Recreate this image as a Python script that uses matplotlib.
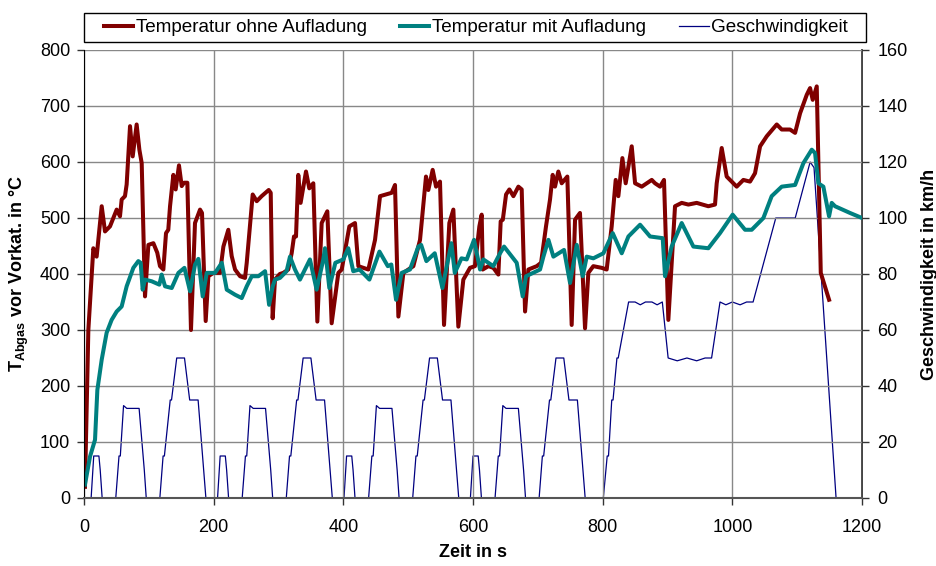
import matplotlib
matplotlib.use("Agg")
import matplotlib.pyplot as plt
from matplotlib.patches import Rectangle

plt.rcParams['font.family'] = ['Liberation Sans', 'DejaVu Sans']
plt.rcParams['mathtext.fontset'] = 'custom'
plt.rcParams['mathtext.rm'] = 'Liberation Sans'
plt.rcParams['mathtext.bf'] = 'Liberation Sans:bold'

# ---- data ----
t_ohne = [1.5, 6.7, 14.4, 19.5, 27.3, 32.4, 40.1, 50.4, 55.5, 58.1, 63.2, 65.8, 71, 75.1, 81.2, 85.4, 89,
          94.1, 99.3, 107, 113, 117.2, 122.4, 126.5, 130, 132.7, 137.8, 141.4, 146.5, 150.7, 154.3, 159.4,
          165, 171.2, 179, 182, 187.7, 191.8, 199.5, 209.8, 215, 222.6, 227.8, 233, 240.7, 248.4, 251, 255,
          260.2, 266.4, 274, 284.9, 288, 291, 294.6, 302, 307.4, 315, 320.3, 323.9, 327, 330.5, 334.1, 342.4,
          347.5, 353.7, 359.9, 366.6, 375.3, 382, 392.3, 397.5, 409.3, 418, 423.2, 438.6, 448.9, 456.6,
          474.6, 479.7, 484.9, 492.6, 508, 518.3, 527.5, 531.1, 537.8, 543, 549.1, 555.3, 563.5, 569.7,
          577.4, 585.1, 595.4, 603, 609.8, 613.4, 615, 623.7, 631.4, 639.1, 642.7, 646, 651, 656.1, 662.3,
          670, 675.1, 680.3, 685.4, 698.3, 705, 712.6, 718.8, 722.9, 726.5, 731.6, 736.8, 745.5, 752.2,
          757.4, 765, 772.8, 777.9, 785.6, 798.5, 806.2, 813.9, 820.1, 824.2, 830.4, 835.5, 844.8, 850,
          860.3, 875.7, 880.8, 888.5, 894.6, 901.3, 911.6, 921.9, 932.2, 945, 963, 973.3, 975.9, 983.6,
          991.3, 1006.7, 1017, 1027.3, 1035, 1042.8, 1053.1, 1068.5, 1076.2, 1089, 1096.8, 1104.5, 1114.8,
          1119.9, 1124, 1130.2, 1136.4, 1149.2]
T_ohne = [20, 300, 446, 431, 521, 476, 485, 515, 503, 533, 539, 560, 664, 610, 667, 622, 598,
          360, 452, 455, 438, 414, 408, 473, 479, 521, 577, 551, 594, 557, 563, 563,
          300, 491, 515, 509, 316, 396, 402, 402, 449, 479, 432, 408, 396, 393, 420, 473,
          542, 530, 539, 550, 545, 321, 390, 400, 402, 408, 437, 467, 467, 577, 527, 583,
          553, 562, 315, 491, 512, 312, 402, 408, 485, 491, 414, 408, 461, 539,
          545, 559, 324, 402, 414, 461, 574, 550, 586, 556, 565, 309, 491, 515,
          306, 390, 411, 414, 485, 506, 408, 414, 411, 399, 494, 497, 542, 551, 539,
          556, 551, 333, 408, 414, 420, 485, 533, 577, 556, 583, 562, 574, 309,
          497, 509, 303, 402, 414, 411, 408, 485, 568, 539, 607, 562, 628, 562,
          556, 568, 562, 556, 568, 318, 521, 527, 524, 527, 521, 524, 562, 625,
          574, 556, 568, 565, 580, 628, 646, 667, 658, 658, 652, 687, 720,
          732, 711, 735, 402, 354]

t_mit = [1.5, 9.3, 17, 20.6, 27.3, 34.9, 42.6, 50.4, 58.1, 65.8, 76.1, 83.8, 87.4, 90.5, 94.1, 104.4,
         116.2, 119.8, 125, 135.3, 145.6, 154.9, 163.6, 171.3, 176.4, 183.1, 189.3, 202.2, 212.5, 220.2,
         233, 243.3, 251, 258.7, 269, 279.3, 285.5, 291.1, 294.6, 302.3, 312.5, 317.7, 325.4, 333.1,
         348.5, 358.8, 369.1, 371.7, 378.4, 387.7, 399.9, 407.6, 415.3, 425, 440.2, 455.7, 468.6, 474,
         481.3, 490, 502.8, 515.7, 520, 528.1, 541, 552.8, 566.7, 571.9, 582.2, 590.3, 601.6, 610.9, 616,
         631.4, 641.7, 647.9, 667.4, 676.7, 681.8, 703.4, 708.6, 716.3, 724, 740.4, 749.7, 760, 769.2,
         775.4, 785.6, 801.1, 815.5, 829.4, 839.7, 857.7, 873.1, 892.6, 896.2, 906.4, 921.9, 939.9, 963,
         981, 1000.5, 1019.6, 1029.9, 1047.9, 1060.7, 1076.2, 1096.8, 1109.6, 1122.5, 1127.6, 1132.7,
         1140.4, 1149.2, 1153.3, 1158.4, 1181.5, 1200]
T_mit = [24, 74, 104, 193, 247, 295, 318, 333, 342, 378, 411, 423, 420, 372, 390, 387,
         381, 399, 378, 375, 402, 411, 369, 417, 427, 360, 402, 402, 420, 372,
         363, 357, 378, 396, 396, 405, 345, 378, 390, 393, 405, 431, 408, 390,
         426, 372, 426, 446, 375, 420, 426, 446, 405, 408, 390, 440, 414, 417,
         354, 402, 408, 449, 452, 423, 437, 375, 455, 402, 428, 426, 461, 408, 426,
         414, 437, 449, 420, 360, 396, 408, 431, 461, 431, 443, 384, 452, 396,
         431, 428, 437, 473, 437, 467, 488, 467, 464, 396, 449, 491, 449, 446,
         473, 506, 479, 479, 500, 539, 556, 559, 598, 622, 616, 562,
         556, 503, 527, 521, 509, 500]

t_speed = [0, 11, 15, 23, 25, 28, 49, 54, 56, 61, 66, 85, 93, 96, 117, 122, 124, 133, 135, 143, 155, 163, 176, 188,
           206, 210, 218, 220, 223, 244, 249, 251, 256, 261, 280, 288, 291, 312, 317, 319, 328, 330, 338, 350, 358, 371, 383,
           401, 405, 413, 415, 418, 439, 444, 446, 451, 456, 475, 483, 486, 507, 512, 514, 523, 525, 533, 545, 553, 566, 578,
           596, 600, 608, 610, 613, 634, 639, 641, 646, 651, 670, 678, 681, 702, 707, 709, 718, 720, 728, 740, 748, 761, 773,
           801, 807, 809, 814, 816, 822, 824, 840, 850, 858, 866, 876, 884, 892, 901, 915, 930, 945, 958, 968, 981,
           990, 1000, 1012, 1022, 1032, 1067, 1080, 1097, 1120, 1126, 1160, 1200]
v_speed = [0, 0, 15, 15, 10, 0, 0, 15, 15, 33, 32, 32, 10, 0, 0, 15, 15, 35, 35, 50, 50, 35, 35, 0,
           0, 15, 15, 10, 0, 0, 15, 15, 33, 32, 32, 10, 0, 0, 15, 15, 35, 35, 50, 50, 35, 35, 0,
           0, 15, 15, 10, 0, 0, 15, 15, 33, 32, 32, 10, 0, 0, 15, 15, 35, 35, 50, 50, 35, 35, 0,
           0, 15, 15, 10, 0, 0, 15, 15, 33, 32, 32, 10, 0, 0, 15, 15, 35, 35, 50, 50, 35, 35, 0,
           0, 15, 15, 35, 35, 50, 50, 70, 70, 69, 70, 70, 69, 70, 50, 49, 50, 49, 50, 50, 70,
           69, 70, 69, 70, 70, 100, 100, 100, 120, 118, 0, 0]

x_ticks = [0, 200, 400, 600, 800, 1000, 1200]
y_ticks = [0, 100, 200, 300, 400, 500, 600, 700, 800]
y2_ticks = [0, 20, 40, 60, 80, 100, 120, 140, 160]

# ---- figure ----
fig = plt.figure(figsize=(9.37, 5.66), dpi=100)
ax = fig.add_axes([84/937, 1-498/566, (862-84)/937, (498-50)/566])
ax2 = ax.twinx()

red = '#800000'
teal = '#008080'
navy = '#000080'

l3, = ax2.plot(t_speed, v_speed, color=navy, lw=0.9, label='Geschwindigkeit', zorder=2)
ax.set_zorder(ax2.get_zorder() + 1)
ax.patch.set_visible(False)
l1, = ax.plot(t_ohne, T_ohne, color=red, lw=2.9, label='Temperatur ohne Aufladung', solid_joinstyle='round')
l2, = ax.plot(t_mit, T_mit, color=teal, lw=2.9, label='Temperatur mit Aufladung', solid_joinstyle='round')

ax.set_xlim(0, 1200)
ax.set_ylim(0, 800)
ax2.set_ylim(0, 160)
ax.set_xticks(x_ticks)
ax.set_yticks(y_ticks)
ax2.set_yticks(y2_ticks)

ax.grid(True, color='#888888', lw=1.0)
ax.set_axisbelow(True)

for a in (ax, ax2):
    a.spines['top'].set_visible(False)
    a.tick_params(labelsize=13, length=5, width=1, direction='out', color='#333333')
ax.tick_params(axis='x', pad=10)
ax.tick_params(axis='y', pad=5)
ax2.tick_params(axis='y', pad=6)
ax.spines['left'].set_color('black')
ax.spines['bottom'].set_color('#555555')
ax.spines['bottom'].set_linewidth(1.5)
ax2.spines['right'].set_color('#333333')
ax2.spines['right'].set_linewidth(1.3)
ax.spines['right'].set_visible(False)
ax2.spines['left'].set_visible(False)
ax2.spines['bottom'].set_visible(False)

ax.set_xlabel('Zeit in s', fontsize=13, fontweight='bold', labelpad=6)
ax.set_ylabel(r'$\mathbf{T_{Abgas}}$ vor Vorkat. in °C', fontsize=13, fontweight='bold', labelpad=6)
ax2.set_ylabel('Geschwindigkeit in km/h', fontsize=13, fontweight='bold', labelpad=10)

leg = fig.legend([l1, l2, l3], [l1.get_label(), l2.get_label(), l3.get_label()],
                 loc='center', bbox_to_anchor=(476/937, 1-27.5/566),
                 ncol=3, fontsize=13.6, frameon=False,
                 borderaxespad=0, handlelength=1.55, handletextpad=0.15,
                 columnspacing=1.75, borderpad=0.3)

fig.patches.append(Rectangle((84/937, 1-42/566), (866-84)/937, (42-13)/566,
                             transform=fig.transFigure, fill=False, edgecolor='black', lw=1.0))

fig.savefig('out.png', dpi=100)
